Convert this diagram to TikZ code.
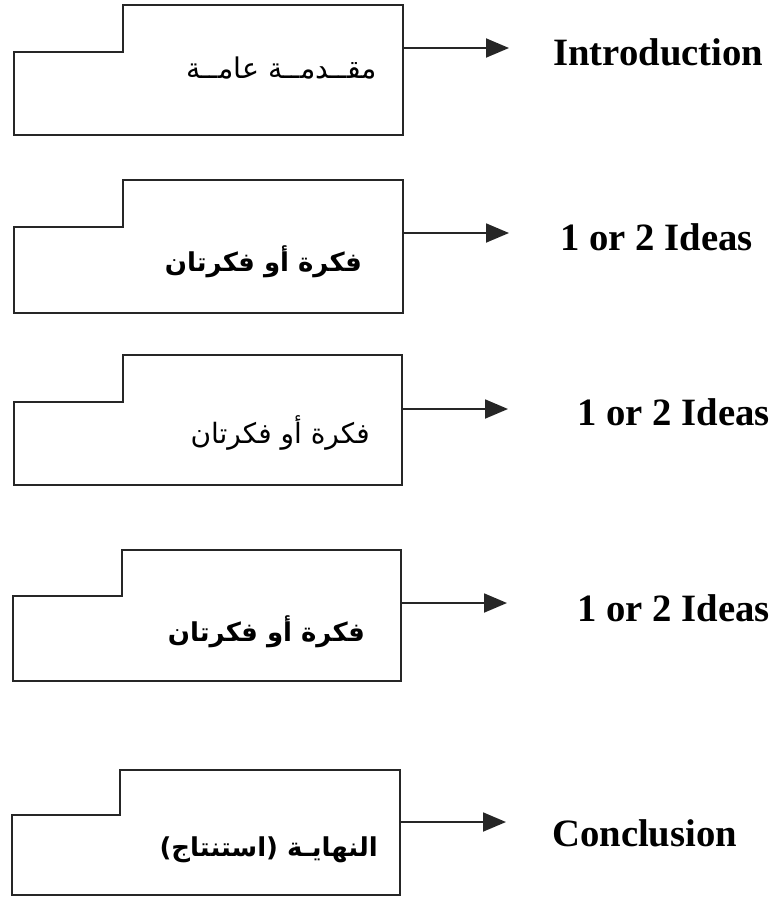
\documentclass[tikz,border=0pt]{standalone}
\usepackage{fontspec}
\setmainfont{Liberation Serif}
\newfontfamily\arabicfont[Script=Arabic]{DejaVu Sans}
\TeXXeTstate=1
\usetikzlibrary{arrows.meta}
\tikzset{
  boxline/.style={line width=1.9pt, draw=black!85, line join=miter},
  arr/.style={line width=1.9pt, draw=black!85, -{Triangle[length=23pt,width=19pt]}},
  lbl/.style={anchor=west, inner sep=0pt, font=\fontsize{38.7}{42}\selectfont\bfseries},
  artxt/.style={anchor=east, inner sep=0pt, font=\fontsize{28.5}{32}\selectfont\arabicfont},
  artxtb/.style={anchor=east, inner sep=0pt, font=\fontsize{26}{30}\selectfont\arabicfont\bfseries}
}
\begin{document}
\begin{tikzpicture}[x=1pt,y=-1pt]
\useasboundingbox (0,0) rectangle (774,898);
% box 1
\draw[boxline] (14,52) -- (123,52) -- (123,5) -- (403,5) -- (403,135) -- (14,135) -- cycle;
\node[artxt] (t1) at (377,68) {\beginR مقــدمــة عامــة\endR};
\coordinate (s1) at (403,48);
\coordinate (e1) at (509,48);
\node[lbl] (l1) at (553,52) {Introduction};
\draw[arr] (s1) -- (e1);
% box 2
\draw[boxline] (14,227) -- (123,227) -- (123,180) -- (403,180) -- (403,313) -- (14,313) -- cycle;
\node[artxtb] (t2) at (362,262) {\beginR فكرة أو فكرتان\endR};
\coordinate (s2) at (403,233);
\coordinate (e2) at (509,233);
\node[lbl] (l2) at (560,237) {1 or 2 Ideas};
\draw[arr] (s2) -- (e2);
% box 3
\draw[boxline] (14,402) -- (123,402) -- (123,355) -- (402,355) -- (402,485) -- (14,485) -- cycle;
\node[artxt, font=\fontsize{28}{31}\selectfont\arabicfont] (t3) at (370,433) {\beginR فكرة أو فكرتان\endR};
\coordinate (s3) at (402,409);
\coordinate (e3) at (508,409);
\node[lbl] (l3) at (577,412) {1 or 2 Ideas};
\draw[arr] (s3) -- (e3);
% box 4
\draw[boxline] (13,596) -- (122,596) -- (122,550) -- (401,550) -- (401,681) -- (13,681) -- cycle;
\node[artxtb] (t4) at (365,632) {\beginR فكرة أو فكرتان\endR};
\coordinate (s4) at (401,603);
\coordinate (e4) at (507,603);
\node[lbl] (l4) at (577,608) {1 or 2 Ideas};
\draw[arr] (s4) -- (e4);
% box 5
\draw[boxline] (12,815) -- (120,815) -- (120,770) -- (400,770) -- (400,895) -- (12,895) -- cycle;
\node[artxtb] (t5) at (378,850) {\beginR النهايـة (استنتاج)\endR};
\coordinate (s5) at (400,822);
\coordinate (e5) at (506,822);
\node[lbl] (l5) at (552,833) {Conclusion};
\draw[arr] (s5) -- (e5);
\end{tikzpicture}
\end{document}
